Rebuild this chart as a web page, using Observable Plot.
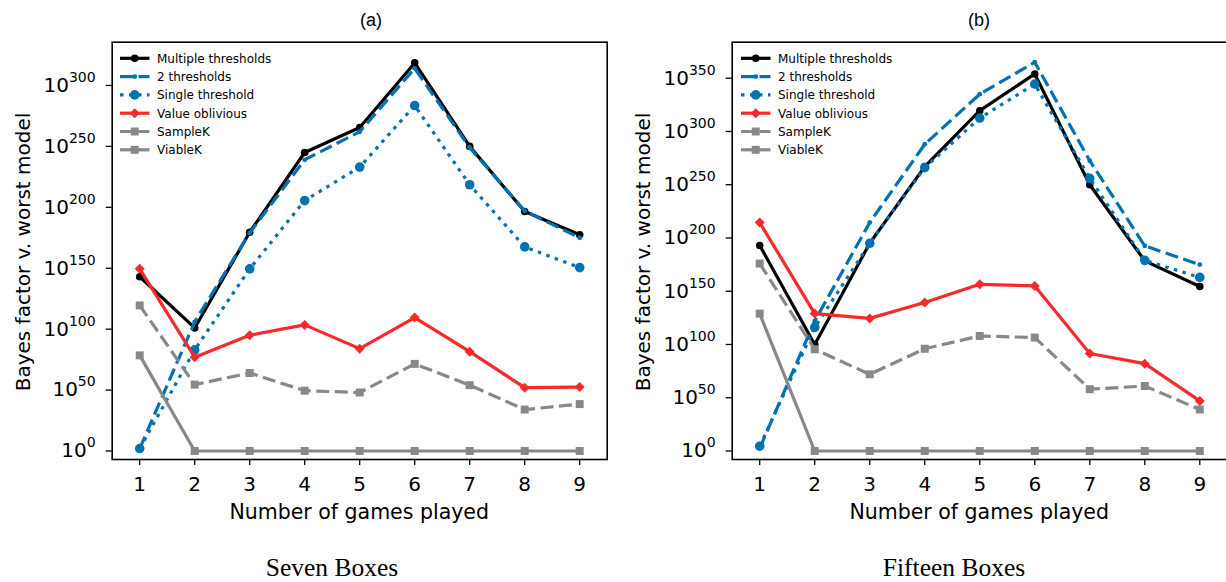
<!DOCTYPE html>
<html><head><meta charset="utf-8">
<script src="https://cdn.jsdelivr.net/npm/d3@7"></script>
<script src="https://cdn.jsdelivr.net/npm/@observablehq/plot@0.6"></script>
<style>
html,body{margin:0;padding:0;background:#fff;}
body{width:1226px;height:582px;overflow:hidden;position:relative;}
.panel{position:absolute;top:0;}
svg{max-width:none !important;}
#overlay{position:absolute;left:0;top:0;pointer-events:none;}
</style></head><body>
<div id="pa" class="panel" style="left:0;width:613px"></div>
<div id="pb" class="panel" style="left:613px;width:620px"></div>
<svg id="overlay" width="1226" height="582"></svg>
<script>
// ---- data (exponents of 10) ----
const games = [1, 2, 3, 4, 5, 6, 7, 8, 9];
const seriesNames = ["Multiple thresholds", "2 thresholds", "Single threshold", "Value oblivious", "SampleK", "ViableK"];

// Panel (a): Seven Boxes
const aMultiple  = [143, 101, 179.5, 245, 265.5, 318.5, 250, 196.5, 177.5];
const aTwo       = [2, 106, 179, 239, 262, 314, 249, 197, 175];
const aSingle    = [2, 83, 149.5, 205.5, 233, 283.5, 218.5, 167.5, 150.5];
const aOblivious = [149.5, 77, 95, 103.5, 84, 109.5, 81.5, 52, 52.5];
const aSampleK   = [119.5, 54.5, 64, 49.5, 48, 71.5, 54, 34, 38.5];
const aViableK   = [78.5, 0, 0, 0, 0, 0, 0, 0, 0];
const aYTicks    = [0, 50, 100, 150, 200, 250, 300];

// Panel (b): Fifteen Boxes
const bMultiple  = [193, 100, 195, 267, 319.5, 354, 250, 178.5, 154.5];
const bTwo       = [2.5, 122, 214.5, 288, 335, 365, 272.5, 192.5, 175];
const bSingle    = [4.5, 116, 195, 266, 312.5, 344.5, 256, 179, 163];
const bOblivious = [214.5, 129, 124.5, 139.5, 156.5, 155, 91.5, 82, 47];
const bSampleK   = [176, 95.5, 72, 96, 108, 106.5, 58, 61, 39];
const bViableK   = [129, 0, 0, 0, 0, 0, 0, 0, 0];
const bYTicks    = [0, 50, 100, 150, 200, 250, 300, 350];

// ---- styles ----
const BLUE = "#0072b2", RED = "#f52a2a", GRAY = "#888888";
const styles = {
  "Multiple thresholds": {stroke: "#000", dash: null, symbol: "circle", r: 3.8},
  "2 thresholds": {stroke: BLUE, dash: "13,5.5", symbol: "circle", r: 2.4},
  "Single threshold": {stroke: BLUE, dash: "3.5,5.5", symbol: "circle", r: 4.8},
  "Value oblivious": {stroke: RED, dash: null, symbol: "diamond2", r: 4.5},
  "SampleK": {stroke: GRAY, dash: "13,5.5", symbol: "square", r: 4.5},
  "ViableK": {stroke: GRAY, dash: null, symbol: "square", r: 4.5}
};
const symMap = {circle: d3.symbolCircle, diamond2: d3.symbolDiamond2, square: d3.symbolSquare};

function panel(el, o) {
  const marks = [];
  seriesNames.forEach((name, i) => {
    const data = games.map((g, j) => ({game: g, v: o.series[i][j]}));
    const st = styles[name];
    marks.push(Plot.line(data, {x: "game", y: "v", stroke: st.stroke, strokeWidth: 3.2,
      strokeDasharray: st.dash || undefined, strokeLinecap: st.dash ? "butt" : "round", strokeLinejoin: "round"}));
    marks.push(Plot.dot(data, {x: "game", y: "v", fill: st.stroke, r: st.r, symbol: st.symbol}));
  });
  marks.push(Plot.axisX({ticks: games, tickSize: 6, tickPadding: 11, label: null, strokeWidth: 1.3, tickFormat: d => String(d)}));
  marks.push(Plot.axisY({ticks: o.yticks, tickSize: 6, tickPadding: 10.5, label: null, strokeWidth: 1.3, tickFormat: d => "10^" + d}));
  marks.push(Plot.frame({stroke: "#000", strokeWidth: 1.6}));
  const svg = Plot.plot({
    width: o.width, height: 530,
    marginLeft: o.ml, marginRight: o.mr, marginTop: 41.7, marginBottom: 71,
    x: {domain: [0.5, 9.5]},
    y: {domain: o.ydom},
    style: "font-family: 'DejaVu Sans', sans-serif; font-size: 20px; color: #000; background: transparent; max-width: none; overflow: visible;",
    marks
  });
  d3.select(svg).selectAll('[aria-label="y-axis tick label"] text').each(function () {
    const t = d3.select(this);
    const parts = t.text().split("^");
    t.text(null);
    t.append("tspan").text(parts[0]);
    t.append("tspan").attr("font-size", 14).attr("dy", -10).text(parts[1]);
  });
  document.getElementById(el).appendChild(svg);
}

panel("pa", {width: 613, ml: 111.7, mr: 6.3, ydom: [-6.98, 335.5], yticks: aYTicks,
  series: [aMultiple, aTwo, aSingle, aOblivious, aSampleK, aViableK]});
panel("pb", {width: 620, ml: 118.7, mr: 6.2, ydom: [-7.98, 383.8], yticks: bYTicks,
  series: [bMultiple, bTwo, bSingle, bOblivious, bSampleK, bViableK]});

// ---- overlay: legends, labels, titles, captions ----
const ov = d3.select("#overlay");
function legend(x0) {
  const g = ov.append("g");
  seriesNames.forEach((name, i) => {
    const st = styles[name];
    const y = 58.3 + i * 18.3;
    g.append("line").attr("x1", x0).attr("x2", x0 + 29.5).attr("y1", y).attr("y2", y)
      .attr("stroke", st.stroke).attr("stroke-width", 3.2)
      .attr("stroke-dasharray", st.dash).attr("stroke-linecap", "butt");
    g.append("path").attr("transform", `translate(${x0 + 14.75},${y})`)
      .attr("d", d3.symbol(symMap[st.symbol], Math.PI * st.r * st.r)()).attr("fill", st.stroke);
    g.append("text").attr("x", x0 + 37).attr("y", y + 4.4)
      .attr("font-family", "DejaVu Sans, sans-serif").attr("font-size", 12).attr("fill", "#000").text(name);
  });
}
legend(120);
legend(741);

const sans = "DejaVu Sans, sans-serif";
function txt(x, y, s, opts = {}) {
  const t = ov.append("text").attr("x", x).attr("y", y).attr("text-anchor", "middle")
    .attr("font-family", opts.font || sans).attr("font-size", opts.size || 20).attr("fill", "#000").text(s);
  if (opts.rotate) t.attr("transform", `rotate(-90,${x},${y})`);
  return t;
}
txt(359.2, 519, "Number of games played", {size: 20.5});
txt(979.2, 519, "Number of games played", {size: 20.5});
txt(30, 252, "Bayes factor v. worst model", {size: 20, rotate: true});
txt(650, 252, "Bayes factor v. worst model", {size: 20, rotate: true});
txt(371, 26, "(a)", {font: "Liberation Sans, Arial, sans-serif", size: 18});
txt(979, 26, "(b)", {font: "Liberation Sans, Arial, sans-serif", size: 18});
txt(332, 576, "Seven Boxes", {font: "Liberation Serif, serif", size: 25.5});
txt(954, 576, "Fifteen Boxes", {font: "Liberation Serif, serif", size: 25.5});
</script>
</body></html>
